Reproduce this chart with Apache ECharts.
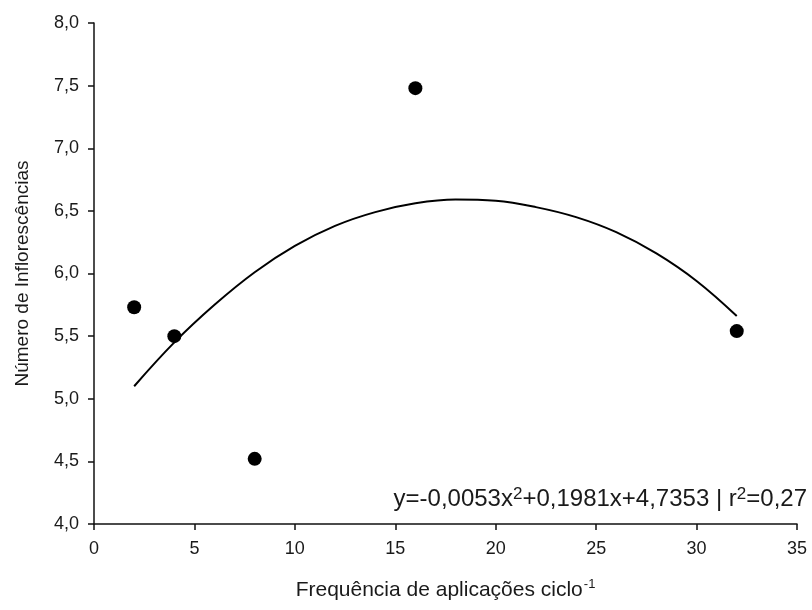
<!DOCTYPE html>
<html>
<head>
<meta charset="utf-8">
<script src="https://cdn.jsdelivr.net/npm/echarts@6/dist/echarts.min.js"></script>
<style>
    html, body {margin: 0; padding: 0; background: #fff;}
    #chart {width: 812px; height: 610px;}
</style>
</head>
<body>
<div id="chart"></div>
<script>
    //pontos observados
    const freqX = [2, 4, 8, 16, 32];
    const inflorY = [5.73, 5.50, 4.52, 7.48, 5.54];
    //curva ajustada
    const curveX = [2, 4, 6, 8, 10, 12, 14, 16, 18, 20, 22, 24, 26, 28, 30, 32];
    const curveY = [5.10, 5.45, 5.75, 6.01, 6.22, 6.38, 6.49, 6.56, 6.59, 6.58, 6.53, 6.45, 6.33, 6.16, 5.94, 5.66];
    const equationText = ['y=-0,0053x', '2', '+0,1981x+4,7353 | r', '2', '=0,27'];

    const fontFamily = '"Liberation Sans", Arial, sans-serif';
    const axisColor = '#111';
    const textColor = '#1a1a1a';

    let chart = echarts.init(document.getElementById('chart'));
    chart.setOption({
        animation: false,
        grid: {
            left: 94,
            right: 15,
            top: 23,
            bottom: 86,
            outerBoundsMode: 'none'
        },
        xAxis: {
            type: 'value',
            min: 0,
            max: 35,
            interval: 5,
            name: '{a|Frequência de aplicações ciclo}{s|-1}',
            nameLocation: 'middle',
            nameGap: 54,
            nameMoveOverlap: false,
            nameTextStyle: {
                rich: {
                    a: {fontSize: 21, fontFamily: fontFamily, color: textColor},
                    s: {fontSize: 13, fontFamily: fontFamily, color: textColor, verticalAlign: 'top', padding: [0, 0, 12, 1]}
                }
            },
            axisLine: {lineStyle: {color: axisColor, width: 1.5}},
            axisTick: {length: 6, lineStyle: {color: axisColor, width: 1.5}},
            axisLabel: {fontSize: 18, fontFamily: fontFamily, color: textColor, margin: 16},
            splitLine: {show: false}
        },
        yAxis: {
            type: 'value',
            min: 4,
            max: 8,
            interval: 0.5,
            name: 'Número de Inflorescências',
            nameLocation: 'middle',
            nameGap: 62,
            nameMoveOverlap: false,
            nameTextStyle: {fontSize: 19, fontFamily: fontFamily, color: textColor},
            axisLine: {show: true, lineStyle: {color: axisColor, width: 1.5}},
            axisTick: {show: true, length: 6, lineStyle: {color: axisColor, width: 1.5}},
            axisLabel: {
                fontSize: 18,
                fontFamily: fontFamily,
                color: textColor,
                margin: 15,
                formatter: function (value) {
                    return value.toFixed(1).replace('.', ',');
                }
            },
            splitLine: {show: false}
        },
        graphic: [{
            type: 'text',
            right: 5,
            top: 486,
            style: {
                text: '{m|' + equationText[0] + '}{s|' + equationText[1] + '}{m|' + equationText[2] + '}{s|' + equationText[3] + '}{m|' + equationText[4] + '}',
                rich: {
                    m: {fontSize: 24, fontFamily: fontFamily, fill: textColor},
                    s: {fontSize: 17, fontFamily: fontFamily, fill: textColor, verticalAlign: 'top', padding: [0, 0, 10, 0]}
                }
            }
        }],
        series: [{
            type: 'line',
            data: curveX.map((x, i) => [x, curveY[i]]),
            smooth: 0.4,
            showSymbol: false,
            lineStyle: {color: '#000', width: 2},
            z: 2
        }, {
            type: 'scatter',
            data: freqX.map((x, i) => [x, inflorY[i]]),
            symbolSize: 14,
            itemStyle: {color: '#000', opacity: 1},
            z: 3
        }]
    });
</script>
</body>
</html>
